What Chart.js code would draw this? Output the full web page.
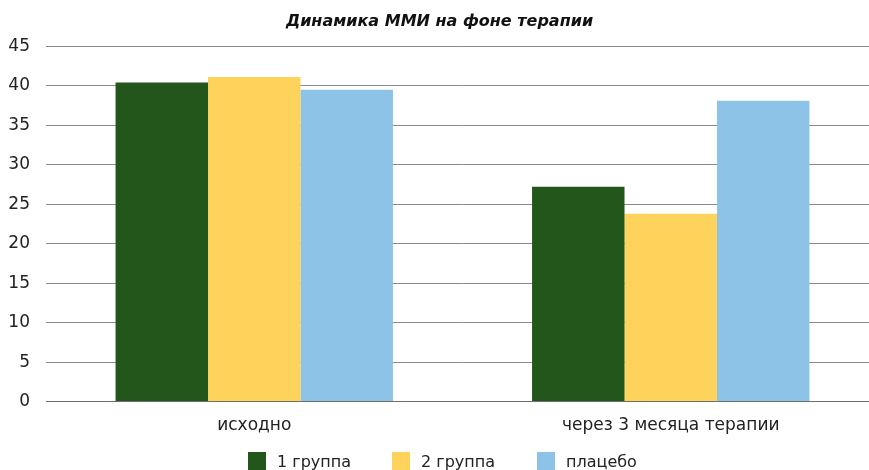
<!DOCTYPE html>
<html>
<head>
<meta charset="utf-8">
<script src="https://cdn.jsdelivr.net/npm/chart.js@4"></script>
<style>
  html, body { margin: 0; padding: 0; background: #fff; }
  #wrap { position: relative; width: 869px; height: 470px; overflow: hidden; }
  #box { position: absolute; left: 0; top: 0; width: 880px; height: 456px; }
  #legend { position: absolute; left: 0; top: 451px; width: 869px; height: 20px;
            font-family: "DejaVu Sans", sans-serif; font-size: 16px; color: #222; }
  .item { position: absolute; top: 0; display: flex; align-items: center; height: 20px; }
  .swatch { width: 18px; height: 18px; margin-right: 11px; }
</style>
</head>
<body>
<div id="wrap">
  <div id="box"><canvas id="chart"></canvas></div>
  <div id="legend"></div>
</div>
<script>
const categories = ["исходно", "через 3 месяца терапии"];
const seriesNames = ["1 группа", "2 группа", "плацебо"];
const group1 = [40.4, 27.2];
const group2 = [41.1, 23.8];
const placebo = [39.5, 38.1];
const yTicks = [0, 5, 10, 15, 20, 25, 30, 35, 40, 45];

const colors = ["#22561a", "#fed35b", "#8cc3e6"];
const values = [group1, group2, placebo];
const FONT = '"DejaVu Sans", sans-serif';

// legend drawn as html under the canvas
const legendLeft = [248, 392, 537];
const legend = document.getElementById("legend");
seriesNames.forEach((name, i) => {
  const el = document.createElement("div");
  el.className = "item";
  el.style.left = legendLeft[i] + "px";
  el.innerHTML = `<span class="swatch" style="background:${colors[i]}"></span><span>${name}</span>`;
  legend.appendChild(el);
});

new Chart(document.getElementById("chart"), {
  type: "bar",
  data: {
    labels: categories,
    datasets: seriesNames.map((name, i) => ({
      label: name,
      data: values[i],
      backgroundColor: colors[i],
      borderWidth: 0,
      categoryPercentage: 0.666,
      barPercentage: 1
    }))
  },
  options: {
    responsive: true,
    maintainAspectRatio: false,
    animation: false,
    layout: { padding: { left: 0, right: 1, top: 0, bottom: 6 } },
    plugins: {
      legend: { display: false },
      tooltip: { enabled: false },
      title: {
        display: true,
        text: "Динамика ММИ на фоне терапии",
        color: "#111",
        font: { family: FONT, size: 16, weight: "bold", style: "italic" },
        padding: { top: 12, bottom: 15 }
      }
    },
    scales: {
      x: {
        grid: { display: false, drawTicks: false },
        border: { display: true, color: "#6e6e6e", width: 1 },
        ticks: { color: "#222", font: { family: FONT, size: 17 }, padding: 14, maxRotation: 0 }
      },
      y: {
        min: 0,
        max: 45,
        afterBuildTicks: s => { s.ticks = yTicks.map(v => ({ value: v })); },
        afterFit: s => { s.width = 46; },
        grid: { color: "#8a8a8a", lineWidth: 1, drawTicks: false },
        border: { display: false },
        ticks: { color: "#222", font: { family: FONT, size: 17 }, padding: 16 }
      }
    }
  }
});
</script>
</body>
</html>
